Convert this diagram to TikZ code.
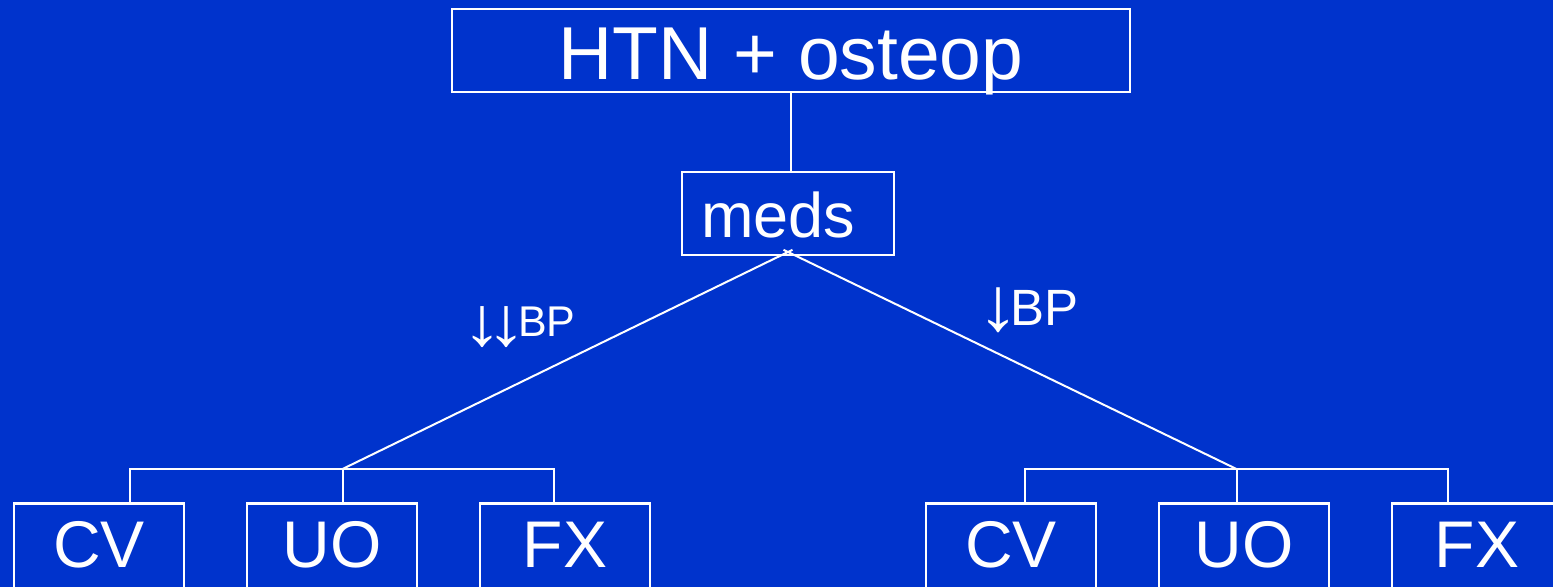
\documentclass[tikz,border=0pt]{standalone}
\usepackage{graphicx}
\usepackage{fontspec}
\setmainfont{Liberation Sans}
\definecolor{bg}{RGB}{0,51,204}
\newcommand{\dnarr}[3]{\makebox[24pt]{\raisebox{-#3}{\resizebox*{#1}{#2}{\raisebox{\depth}{↓}}}}}
\begin{document}
\begin{tikzpicture}[x=1pt,y=-1pt,
  box/.style={draw=white, line width=2.4pt, text=white, inner sep=0pt},
  leaf/.style={box, minimum width=170pt, minimum height=90pt,
    font=\fontsize{66}{70}\selectfont, text height=47pt, text depth=10pt},
  conn/.style={draw=white, line width=2pt},
  lbl/.style={text=white, inner sep=0pt, anchor=base west}]
\clip (0,0) rectangle (1553,587);
\fill[bg] (0,0) rectangle (1553,587);

\node[box, minimum width=678pt, minimum height=83pt,
  font=\fontsize{75}{80}\selectfont, text height=57pt, text depth=0pt] (top) at (791,50.5) {HTN + osteop};
\node[box, minimum height=83pt, inner xsep=19pt, text width=174pt, align=left,
  font=\fontsize{63}{70}\selectfont, text height=47pt, text depth=0pt] (meds) at (788,213.5) {meds};

\node[leaf] (cvL) at (99,548.5) {CV};
\node[leaf] (uoL) at (332,548.5) {UO};
\node[leaf] (fxL) at (565,548.5) {FX};
\node[leaf] (cvR) at (1011,548.5) {CV};
\node[leaf] (uoR) at (1244,548.5) {UO};
\node[leaf] (fxR) at (1477,548.5) {FX};

\coordinate (mj) at (788,252);
\coordinate (jL) at (342.5,469);
\coordinate (jR) at (1236.5,469);
\coordinate (dL1) at (130,469);
\coordinate (dL3) at (554,469);
\coordinate (dR1) at (1025,469);
\coordinate (dR3) at (1448,469);

\draw[conn] (top.south) -- (top.south |- meds.north);
\draw[conn, shorten <=-5pt] (mj) -- (jL);
\draw[conn, shorten <=-5pt] (mj) -- (jR);

\draw[conn] (dL1 |- cvL.north) -- (dL1) -- (dL3) -- (dL3 |- fxL.north);
\draw[conn] (jL) -- (jL |- uoL.north);
\draw[conn] (dR1 |- cvR.north) -- (dR1) -- (dR3) -- (dR3 |- fxR.north);
\draw[conn] (jR) -- (jR |- uoR.north);

\node[lbl, font=\fontsize{43}{48}\selectfont] (lblL) at (470,336) {\dnarr{40pt}{41pt}{12pt}\dnarr{40pt}{41pt}{12pt}BP};
\node[lbl, font=\fontsize{51}{56}\selectfont] (lblR) at (986,325) {\dnarr{42pt}{45pt}{8pt}BP};
\end{tikzpicture}
\end{document}
